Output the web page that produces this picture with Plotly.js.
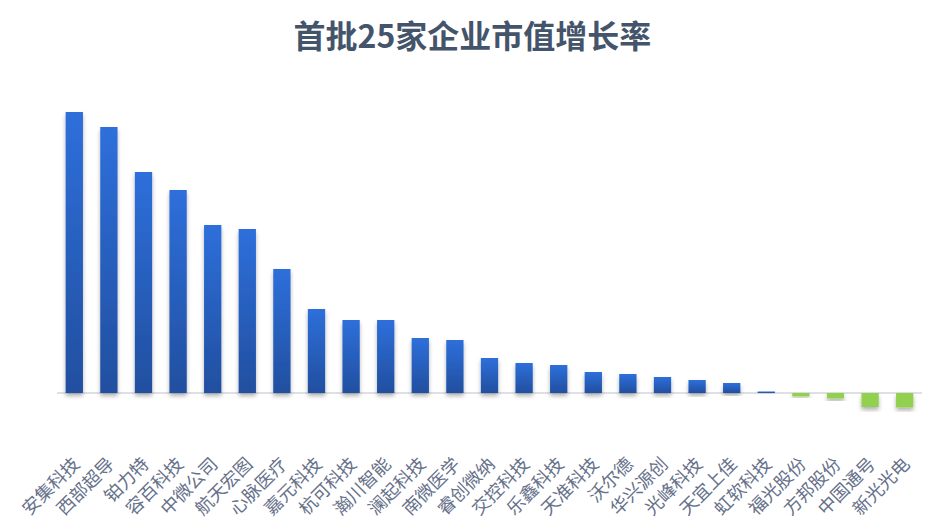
<!DOCTYPE html>
<html>
<head>
<meta charset="utf-8">
<script src="https://cdn.plot.ly/plotly-3.0.1.min.js"></script>
<style>html,body{margin:0;padding:0;background:#fff;}#chart{width:945px;height:531px;}</style>
</head>
<body>
<div id="chart"></div>
<script>
const companies = ["安集科技","西部超导","铂力特","容百科技","中微公司","航天宏图","心脉医疗","嘉元科技","杭可科技","瀚川智能","澜起科技","南微医学","睿创微纳","交控科技","乐鑫科技","天准科技","沃尔德","华兴源创","光峰科技","天宜上佳","虹软科技","福光股份","方邦股份","中国通号","新光光电"];
const growth = [281,266,221,203,168,164,124,84,73,73,55,53,35,30,28,21,19,16,13,10,1.5,-3.5,-5.5,-14,-14.5];
const positiveColor = "#2a62c8";
const negativeColor = "#92d050";

const colors = growth.map(v => v >= 0 ? positiveColor : negativeColor);

const trace = {
  type: "bar",
  x: companies,
  y: growth,
  marker: {color: colors, line: {width: 0}},
  hoverinfo: "x+y"
};

const layout = {
  width: 945,
  height: 531,
  margin: {l: 57, r: 23, t: 100, b: 86},
  paper_bgcolor: "#ffffff",
  plot_bgcolor: "#ffffff",
  bargap: 0.5,
  showlegend: false,
  title: {
    text: "<b>首批25家企业市值增长率</b>",
    x: 0.5, xanchor: "center",
    y: 0.93, yanchor: "middle",
    font: {family: "Noto Sans CJK SC, sans-serif", size: 32, color: "#44546a"}
  },
  xaxis: {
    tickangle: -45,
    showline: false,
    showgrid: false,
    ticks: "",
    ticklabelstandoff: 4,
    tickfont: {family: "Noto Sans CJK SC, sans-serif", size: 18, color: "#66718a"},
    fixedrange: true
  },
  yaxis: {
    range: [-52, 293],
    showgrid: false,
    showticklabels: false,
    zeroline: true,
    zerolinecolor: "#dde1e6",
    zerolinewidth: 2,
    fixedrange: true
  }
};

Plotly.newPlot("chart", [trace], layout, {displayModeBar: false, staticPlot: true}).then(function(gd){
  const svg = gd.querySelector("svg.main-svg");
  const ns = "http://www.w3.org/2000/svg";
  let defs = svg.querySelector("defs");
  if (!defs) { defs = document.createElementNS(ns, "defs"); svg.insertBefore(defs, svg.firstChild); }
  const grad = document.createElementNS(ns, "linearGradient");
  grad.setAttribute("id", "barGrad");
  grad.setAttribute("x1", "0"); grad.setAttribute("y1", "0");
  grad.setAttribute("x2", "0"); grad.setAttribute("y2", "1");
  [["0%", "#2e6fdb"], ["100%", "#214f9f"]].forEach(function(s){
    const st = document.createElementNS(ns, "stop");
    st.setAttribute("offset", s[0]); st.setAttribute("stop-color", s[1]);
    grad.appendChild(st);
  });
  defs.appendChild(grad);
  const filt = document.createElementNS(ns, "filter");
  filt.setAttribute("id", "barShadow");
  filt.setAttribute("x", "-30%"); filt.setAttribute("y", "-10%");
  filt.setAttribute("width", "160%"); filt.setAttribute("height", "140%");
  const ds = document.createElementNS(ns, "feDropShadow");
  ds.setAttribute("dx", "0"); ds.setAttribute("dy", "3");
  ds.setAttribute("stdDeviation", "2");
  ds.setAttribute("flood-color", "#000000"); ds.setAttribute("flood-opacity", "0.3");
  filt.appendChild(ds);
  defs.appendChild(filt);
  const paths = gd.querySelectorAll(".trace.bars .point path");
  paths.forEach(function(p, i){
    if (growth[i] >= 0) p.style.fill = "url(#barGrad)";
    p.setAttribute("filter", "url(#barShadow)");
  });
});
</script>
</body>
</html>
